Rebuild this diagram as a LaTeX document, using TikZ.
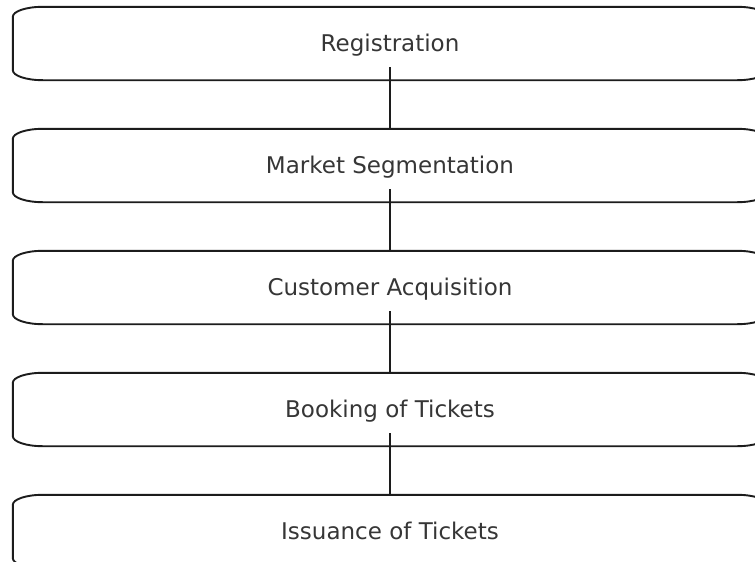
\documentclass[tikz,border=0pt]{standalone}
\usepackage{fontspec}
\setmainfont{DejaVu Sans}
\definecolor{edgeink}{HTML}{1C1C1C}
\definecolor{labelink}{HTML}{363636}
\tikzset{
  stagebox/.style={shape=rectangle, draw=none, inner sep=0pt,
    minimum width=754pt, minimum height=73pt,
    font=\fontsize{23pt}{27pt}\selectfont, text=labelink,
    text height=16.8pt, text depth=0pt},
  outline/.style={draw=edgeink, line width=1.9pt},
  link/.style={draw=edgeink, line width=1.9pt}
}
% rounded box with elliptic corners drawn around a named node
\newcommand\stageoutline[1]{%
  \path[outline]
    ([xshift=30pt]#1.north west) -- ([xshift=-30pt]#1.north east)
    arc[start angle=90, end angle=0, x radius=30pt, y radius=10pt]
    -- ([yshift=10pt]#1.south east)
    arc[start angle=0, end angle=-90, x radius=30pt, y radius=10pt]
    -- ([xshift=30pt]#1.south west)
    arc[start angle=270, end angle=180, x radius=30pt, y radius=10pt]
    -- ([yshift=-10pt]#1.north west)
    arc[start angle=180, end angle=90, x radius=30pt, y radius=10pt]
    -- cycle;}
\begin{document}
\begin{tikzpicture}[x=1pt, y=1pt]
  \useasboundingbox (0,0) rectangle (755,-562);
  \clip (0,0) rectangle (755,-562);
  \fill[white] (0,0) rectangle (755,-562);

  \node[stagebox] (b1) at (390,-43.5)  {Registration};
  \node[stagebox] (b2) at (390,-165.5) {Market Segmentation};
  \node[stagebox] (b3) at (390,-287.5) {Customer Acquisition};
  \node[stagebox] (b4) at (390,-409.5) {Booking of Tickets};
  \node[stagebox] (b5) at (390,-531.5) {Issuance of Tickets};

  \foreach \b in {b1,b2,b3,b4,b5} {\stageoutline{\b}}

  \draw[link] ([yshift=13pt]b1.south) -- (b2.north);
  \draw[link] ([yshift=13pt]b2.south) -- (b3.north);
  \draw[link] ([yshift=13pt]b3.south) -- (b4.north);
  \draw[link] ([yshift=13pt]b4.south) -- (b5.north);
\end{tikzpicture}
\end{document}
